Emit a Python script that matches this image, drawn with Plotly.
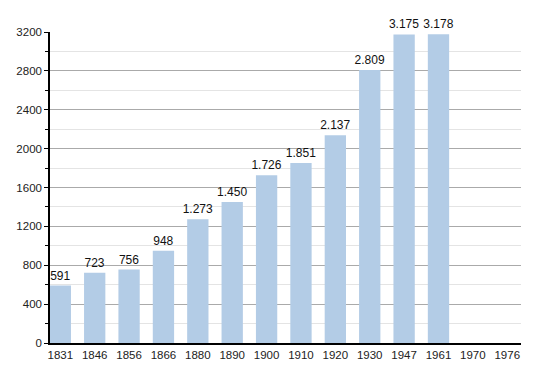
import plotly.graph_objects as go

years = ["1831", "1846", "1856", "1866", "1880", "1890", "1900", "1910", "1920", "1930", "1947", "1961", "1970", "1976"]
population = [591, 723, 756, 948, 1273, 1450, 1726, 1851, 2137, 2809, 3175, 3178, None, None]

def fmt(v):
    if v is None:
        return ""
    return f"{v:,}".replace(",", ".")

labels = [fmt(v) for v in population]

fig = go.Figure()
fig.add_trace(go.Bar(
    x=years, y=population, text=labels, textposition="outside",
    textfont=dict(size=12, color="#111"), constraintext="none",
    marker=dict(color="#b3cce6", line=dict(width=0)),
    width=0.62, cliponaxis=False,
))
fig.update_layout(
    width=550, height=373,
    margin=dict(l=50, r=29, t=32, b=30, autoexpand=False),
    paper_bgcolor="white", plot_bgcolor="white",
    font=dict(family="Liberation Sans, Arial, sans-serif", size=11, color="#222"),
    showlegend=False,
    bargap=0.38,
)
fig.update_xaxes(
    type="category", range=[-0.3, 13.4],
    showline=True, linecolor="black", linewidth=1.5,
    showgrid=False, ticks="", tickfont=dict(size=11.5),
)
fig.update_yaxes(
    range=[0, 3200], tickvals=list(range(0, 3201, 400)),
    showline=True, linecolor="black", linewidth=1.5,
    showgrid=True, gridcolor="#aaaaaa", gridwidth=1,
    ticks="outside", ticklen=4, tickcolor="black",
    minor=dict(tickvals=list(range(200, 3200, 400)), showgrid=True, gridcolor="#e4e4e4",
               ticks="outside", ticklen=3, tickcolor="black"),
    zeroline=False, tickfont=dict(size=11.5),
)
fig.write_html("out.html", config={"displayModeBar": False})

with open("out.html", "r", encoding="utf-8") as f:
    html = f.read()
html = html.replace("<body>", '<body style="margin:0;padding:0;">', 1)
with open("out.html", "w", encoding="utf-8") as f:
    f.write(html)
